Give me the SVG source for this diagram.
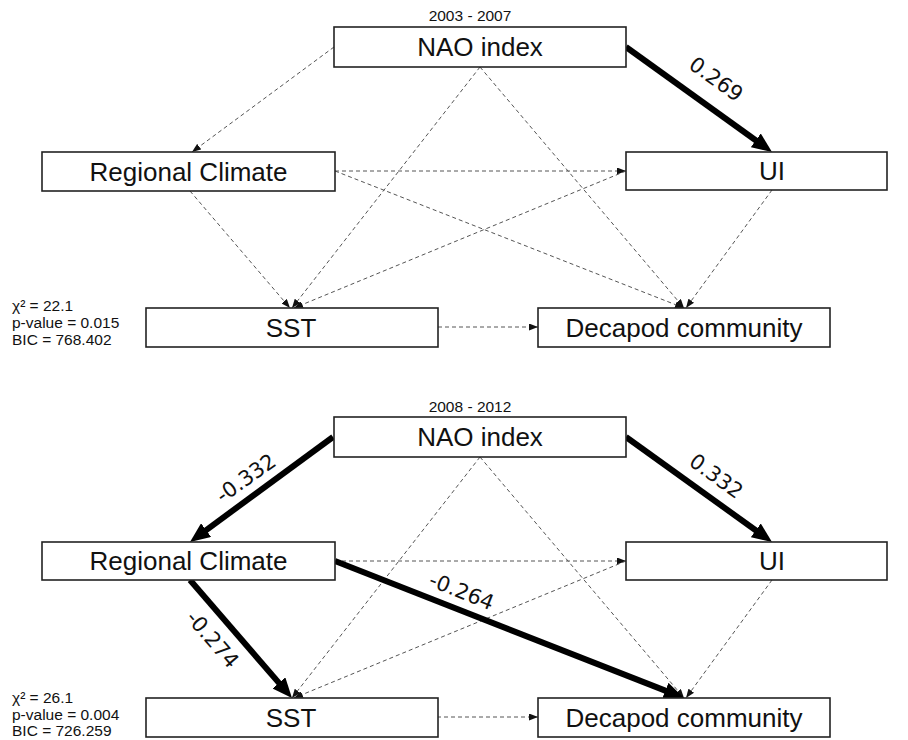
<svg xmlns="http://www.w3.org/2000/svg" width="908" height="740" viewBox="0 0 908 740">
<style>
.box{fill:#fff;stroke:#222;stroke-width:1.6}
.lbl{font-family:"Liberation Sans",Arial,sans-serif;font-size:26px;fill:#111;text-anchor:middle}
.yr{font-family:"Liberation Sans",Arial,sans-serif;font-size:15.5px;fill:#111;text-anchor:middle}
.st{font-family:"Liberation Sans",Arial,sans-serif;font-size:15.5px;fill:#111}
.dash{stroke:#555;stroke-width:1;stroke-dasharray:4,3;fill:none;marker-end:url(#ah)}
.thick{stroke:#000;stroke-width:6;fill:none;marker-end:url(#big)}
.coef{font-family:"DejaVu Sans",Verdana,sans-serif;font-size:21px;fill:#111;text-anchor:middle}
</style>
<defs>
<marker id="ah" markerUnits="userSpaceOnUse" markerWidth="9" markerHeight="7" refX="9" refY="3.5" orient="auto">
<path d="M0,0 L9,3.5 L0,7 z" fill="#111"/>
</marker>
<marker id="big" markerUnits="userSpaceOnUse" markerWidth="22" markerHeight="17" refX="2" refY="8.5" orient="auto">
<path d="M0,0 L20,8.5 L0,17 z" fill="#000"/>
</marker>
</defs>
<rect width="908" height="740" fill="#fff"/>

<g id="connectors">
<!-- top panel -->
<line class="dash" x1="334" y1="47" x2="192" y2="152"/>
<line class="dash" x1="480" y1="67" x2="292" y2="308"/>
<line class="dash" x1="480" y1="67" x2="684" y2="308"/>
<line class="dash" x1="335" y1="171" x2="626" y2="171"/>
<line class="dash" x1="190" y1="191" x2="290" y2="308"/>
<line class="dash" x1="335" y1="171" x2="684" y2="308"/>
<line class="dash" x1="626" y1="171" x2="294" y2="308"/>
<line class="dash" x1="772" y1="190" x2="686" y2="308"/>
<line class="dash" x1="438" y1="327" x2="538" y2="327"/>
<line class="thick" x1="626" y1="47" x2="757.4" y2="141.5"/>
<text class="coef" transform="translate(712,85) rotate(35.7)">0.269</text>
<!-- bottom panel -->
<line class="dash" x1="480" y1="457" x2="292" y2="698"/>
<line class="dash" x1="480" y1="457" x2="684" y2="698"/>
<line class="dash" x1="335" y1="561" x2="626" y2="561"/>
<line class="dash" x1="626" y1="561" x2="294" y2="698"/>
<line class="dash" x1="772" y1="580" x2="686" y2="698"/>
<line class="dash" x1="437" y1="717" x2="538" y2="717"/>
<line class="thick" x1="333" y1="437" x2="204.5" y2="531.3"/>
<line class="thick" x1="626" y1="437" x2="757.4" y2="531.5"/>
<line class="thick" x1="190" y1="580" x2="280.2" y2="684.4"/>
<line class="thick" x1="335" y1="561" x2="667.2" y2="691.4"/>
<text class="coef" transform="translate(250,484) rotate(-35.4)">-0.332</text>
<text class="coef" transform="translate(712,482) rotate(36)">0.332</text>
<text class="coef" transform="translate(207,644) rotate(49.2)">-0.274</text>
<text class="coef" transform="translate(459,598) rotate(21.6)">-0.264</text>
</g>

<g id="top-panel-labels">
<text class="yr" x="470" y="21">2003 - 2007</text>
<text class="st" x="12" y="311">χ² = 22.1</text>
<text class="st" x="12" y="328">p-value = 0.015</text>
<text class="st" x="12" y="345">BIC = 768.402</text>
</g>
<g id="nao1"><rect class="box" x="334" y="27" width="292" height="40"/><text class="lbl" x="480" y="56">NAO index</text></g>
<g id="rc1"><rect class="box" x="42" y="152" width="293" height="39"/><text class="lbl" x="188.5" y="180.5">Regional Climate</text></g>
<g id="ui1"><rect class="box" x="626" y="152" width="261" height="38"/><text class="lbl" x="772" y="180">UI</text></g>
<g id="sst1"><rect class="box" x="146" y="308" width="292" height="39"/><text class="lbl" x="291" y="336.5">SST</text></g>
<g id="dec1"><rect class="box" x="538" y="308" width="292" height="39"/><text class="lbl" x="684" y="336.5">Decapod community</text></g>

<g id="bottom-panel-labels">
<text class="yr" x="470" y="412">2008 - 2012</text>
<text class="st" x="12" y="703">χ² = 26.1</text>
<text class="st" x="12" y="720">p-value = 0.004</text>
<text class="st" x="12" y="736">BIC = 726.259</text>
</g>
<g id="nao2"><rect class="box" x="334" y="417" width="292" height="40"/><text class="lbl" x="480" y="446">NAO index</text></g>
<g id="rc2"><rect class="box" x="42" y="542" width="293" height="38"/><text class="lbl" x="188.5" y="570">Regional Climate</text></g>
<g id="ui2"><rect class="box" x="626" y="542" width="261" height="38"/><text class="lbl" x="772" y="570">UI</text></g>
<g id="sst2"><rect class="box" x="146" y="698" width="292" height="39"/><text class="lbl" x="291" y="726.5">SST</text></g>
<g id="dec2"><rect class="box" x="538" y="698" width="292" height="39"/><text class="lbl" x="684" y="726.5">Decapod community</text></g>
</svg>
